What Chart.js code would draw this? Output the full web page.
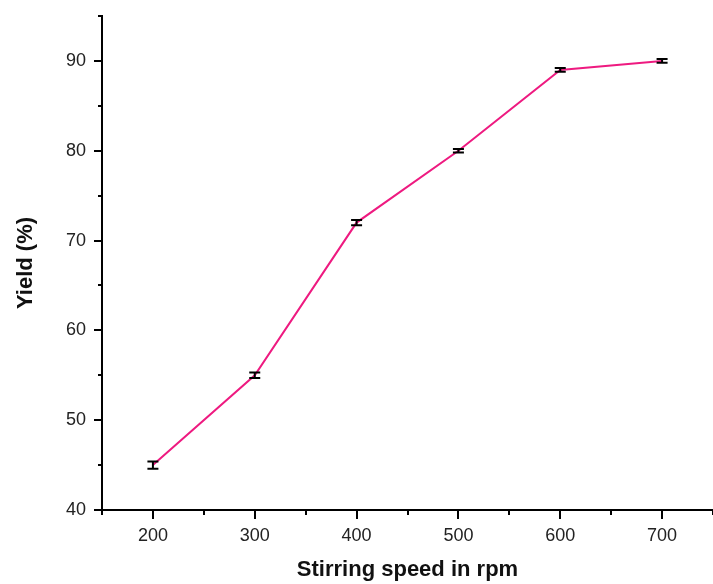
<!DOCTYPE html>
<html>
<head>
<meta charset="utf-8">
<script src="https://cdn.jsdelivr.net/npm/chart.js@4.4.1/dist/chart.umd.min.js"></script>
<style>
  html, body { margin: 0; padding: 0; background: #fff; }
  #grafico { display: block; }
</style>
</head>
<body>
<canvas id="grafico" width="713" height="584"></canvas>
<script>
// Rendimento em função da velocidade de agitação
const velocidades = [200, 300, 400, 500, 600, 700];
const rendimento = [45, 55, 72, 80, 89, 90];
const erros = [0.4, 0.3, 0.3, 0.2, 0.2, 0.2];
const ticksX = [200, 300, 400, 500, 600, 700];
const ticksY = [40, 50, 60, 70, 80, 90];

const fonteTicks = { family: 'Liberation Sans, Arial, sans-serif', size: 18 };
const fonteTitulo = { family: 'Liberation Sans, Arial, sans-serif', size: 22, weight: 'bold' };

// Marcas de escala: maiores nos valores rotulados, menores entre eles
const marcasEscala = {
    id: 'marcasEscala',
    afterDraw(chart) {
        const ctx = chart.ctx;
        const sx = chart.scales.x, sy = chart.scales.y;
        ctx.save();
        ctx.strokeStyle = '#000';
        ctx.lineWidth = 2;
        ctx.beginPath();
        for (let v = sx.min; v <= sx.max; v += 50) {
            const px = Math.round(sx.getPixelForValue(v));
            const len = ticksX.includes(v) ? 9 : 5;
            ctx.moveTo(px, sy.bottom);
            ctx.lineTo(px, sy.bottom + len);
        }
        for (let v = sy.min; v <= sy.max; v += 5) {
            const py = Math.round(sy.getPixelForValue(v));
            const len = ticksY.includes(v) ? 8 : 4;
            ctx.moveTo(sx.left, py);
            ctx.lineTo(sx.left - len, py);
        }
        ctx.stroke();
        ctx.restore();
    }
};

// Barras de erro com traço horizontal nas pontas
const barrasErro = {
    id: 'barrasErro',
    afterDatasetsDraw(chart) {
        const ctx = chart.ctx;
        const sx = chart.scales.x, sy = chart.scales.y;
        ctx.save();
        ctx.strokeStyle = '#000';
        ctx.lineWidth = 2;
        velocidades.forEach((v, i) => {
            const px = sx.getPixelForValue(v);
            const topo = sy.getPixelForValue(rendimento[i] + erros[i]);
            const base = sy.getPixelForValue(rendimento[i] - erros[i]);
            ctx.beginPath();
            ctx.moveTo(px, topo);
            ctx.lineTo(px, base);
            ctx.moveTo(px - 5.5, topo);
            ctx.lineTo(px + 5.5, topo);
            ctx.moveTo(px - 5.5, base);
            ctx.lineTo(px + 5.5, base);
            ctx.stroke();
        });
        ctx.restore();
    }
};

new Chart(document.getElementById('grafico'), {
    type: 'line',
    data: {
        datasets: [{
            data: velocidades.map((v, i) => ({ x: v, y: rendimento[i] })),
            borderColor: '#ee1a80',
            borderWidth: 2,
            pointRadius: 0,
            tension: 0
        }]
    },
    options: {
        responsive: false,
        animation: false,
        layout: { padding: { top: 16, right: 0, left: 0, bottom: 0 } },
        plugins: {
            legend: { display: false },
            tooltip: { enabled: false }
        },
        scales: {
            x: {
                type: 'linear',
                min: 150,
                max: 750,
                afterFit: s => {
                    s.height = 74;
                    s.paddingLeft = 0;
                    s.paddingRight = 0;
                },
                border: { display: true, color: '#000', width: 2 },
                grid: { display: true, drawOnChartArea: false, drawTicks: true, tickLength: 9, color: 'transparent' },
                ticks: {
                    stepSize: 50,
                    autoSkip: false,
                    maxRotation: 0,
                    padding: 6,
                    color: '#222',
                    font: fonteTicks,
                    callback: v => ticksX.includes(v) ? String(v) : ''
                },
                title: {
                    display: true,
                    text: 'Stirring speed in rpm',
                    color: '#111',
                    font: fonteTitulo,
                    padding: { top: 0, bottom: 1 }
                }
            },
            y: {
                min: 40,
                max: 95,
                afterFit: s => {
                    s.width = 102;
                    s.paddingTop = 0;
                    s.paddingBottom = 0;
                },
                border: { display: true, color: '#000', width: 2 },
                grid: { display: true, drawOnChartArea: false, drawTicks: true, tickLength: 8, color: 'transparent' },
                ticks: {
                    stepSize: 5,
                    autoSkip: false,
                    padding: 8,
                    color: '#222',
                    font: fonteTicks,
                    callback: v => ticksY.includes(v) ? String(v) : ''
                },
                title: {
                    display: true,
                    text: 'Yield (%)',
                    color: '#111',
                    font: fonteTitulo,
                    padding: { top: 13, bottom: 0 }
                }
            }
        }
    },
    plugins: [marcasEscala, barrasErro]
});
</script>
</body>
</html>
